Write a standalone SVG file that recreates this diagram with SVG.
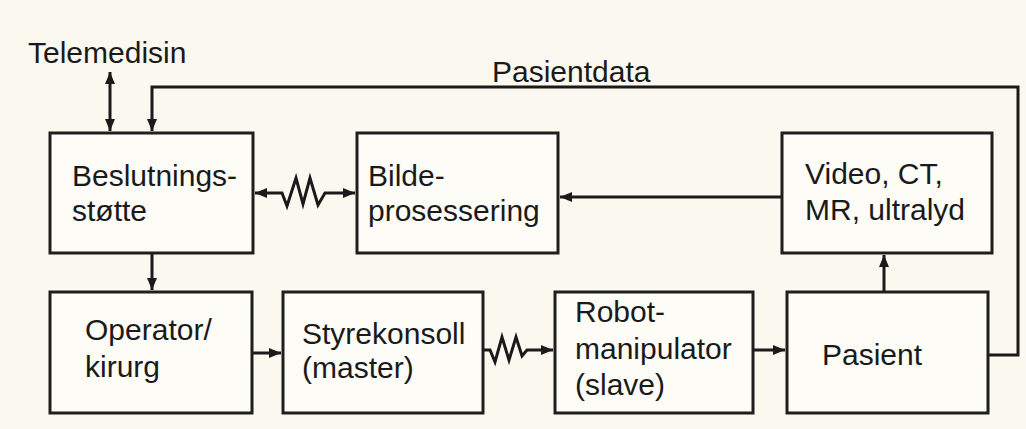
<svg xmlns="http://www.w3.org/2000/svg" width="1026" height="429" viewBox="0 0 1026 429">
<style>
.box{fill:#fdfcf7;stroke:#1e1e1e;stroke-width:3}
.t{font-family:"Liberation Sans",Arial,sans-serif;font-size:30px;fill:#1a1a1a}
.c{fill:none;stroke:#1a1a1a;stroke-width:3}
</style>
<defs>
<marker id="ah" viewBox="0 0 12 10" refX="12" refY="5" markerWidth="12" markerHeight="10" markerUnits="userSpaceOnUse" orient="auto-start-reverse">
<path d="M0,0 L12,5 L0,10 Z" fill="#1a1a1a"/>
</marker>
</defs>
<rect width="1026" height="429" fill="#faf8ef"/>
<g id="connectors">
<path class="c" d="M110,72 L110,131" stroke="#4d4330" marker-start="url(#ah)" marker-end="url(#ah)"/>
<path class="c" d="M988,355 L1018,355 L1018,87 L152,87 L152,131" marker-end="url(#ah)"/>
<path class="c" d="M255,193 L282,193 L287,206 L296,178 L303,204 L310,178 L318,205 L325,193 L355,193" marker-start="url(#ah)" marker-end="url(#ah)"/>
<path class="c" d="M782,197 L560,197" marker-end="url(#ah)"/>
<path class="c" d="M152,253 L152,290" marker-end="url(#ah)"/>
<path class="c" d="M252,353 L281,353" marker-end="url(#ah)"/>
<path class="c" d="M483,350 L490,350 L495,362 L502,337 L509,360 L516,337 L522,356 L527,350 L553,350" marker-end="url(#ah)"/>
<path class="c" d="M753,350 L785,350" marker-end="url(#ah)"/>
<path class="c" d="M884,292 L884,255" marker-end="url(#ah)"/>
</g>
<text class="t" x="28" y="63">Telemedisin</text>
<text class="t" x="492" y="82">Pasientdata</text>
<g id="beslutningsstotte">
<rect class="box" x="50" y="133" width="203" height="120"/>
<text class="t" x="72" y="186">Beslutnings-</text>
<text class="t" x="72" y="221">støtte</text>
</g>
<g id="bildeprosessering">
<rect class="box" x="357" y="133" width="201" height="120"/>
<text class="t" x="368" y="186">Bilde-</text>
<text class="t" x="368" y="221">prosessering</text>
</g>
<g id="video">
<rect class="box" x="782" y="133" width="210" height="120"/>
<text class="t" x="805" y="184">Video, CT,</text>
<text class="t" x="805" y="220">MR, ultralyd</text>
</g>
<g id="operator">
<rect class="box" x="50" y="292" width="202" height="121"/>
<text class="t" x="85" y="340">Operator/</text>
<text class="t" x="85" y="377">kirurg</text>
</g>
<g id="styrekonsoll">
<rect class="box" x="283" y="292" width="200" height="121"/>
<text class="t" x="302" y="344">Styrekonsoll</text>
<text class="t" x="302" y="378">(master)</text>
</g>
<g id="robot">
<rect class="box" x="555" y="292" width="198" height="121"/>
<text class="t" x="575" y="322">Robot-</text>
<text class="t" x="575" y="359">manipulator</text>
<text class="t" x="575" y="395">(slave)</text>
</g>
<g id="pasient">
<rect class="box" x="787" y="292" width="201" height="121"/>
<text class="t" x="822" y="365">Pasient</text>
</g>
</svg>
